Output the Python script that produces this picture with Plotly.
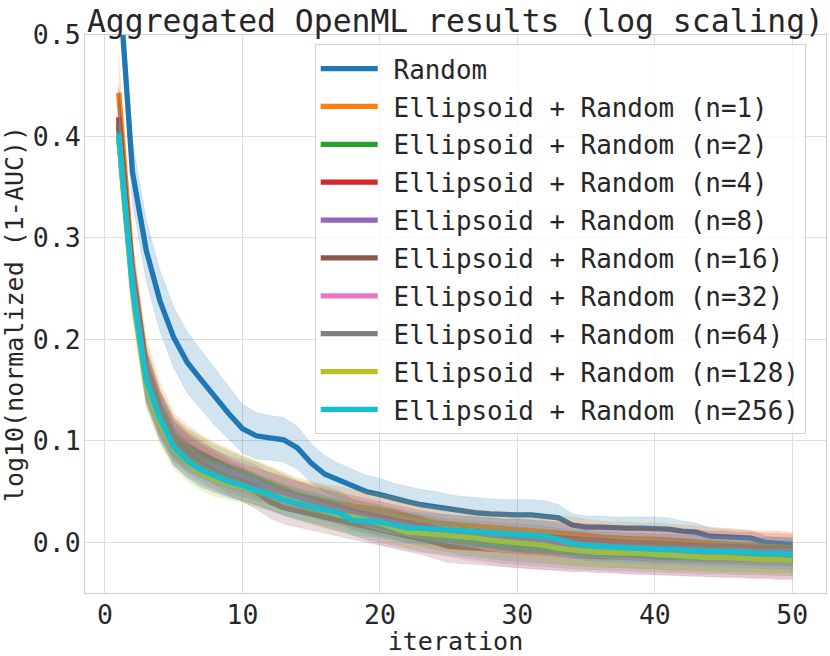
import plotly.graph_objects as go

iterations = list(range(1, 51))

names = ["Random"] + [f"Ellipsoid + Random (n={n})" for n in [1, 2, 4, 8, 16, 32, 64, 128, 256]]
colors = ["#1f77b4", "#ff7f0e", "#2ca02c", "#d62728", "#9467bd",
          "#8c564b", "#e377c2", "#7f7f7f", "#bcbd22", "#17becf"]

random_mean = [0.560, 0.365, 0.288, 0.238, 0.202, 0.177, 0.160, 0.143, 0.127, 0.112,
               0.105, 0.103, 0.101, 0.093, 0.078, 0.067, 0.061, 0.055, 0.050, 0.047,
               0.043, 0.040, 0.037, 0.035, 0.032, 0.030, 0.029, 0.028, 0.027, 0.027,
               0.027, 0.026, 0.024, 0.017, 0.015, 0.015, 0.014, 0.014, 0.014, 0.014,
               0.013, 0.011, 0.010, 0.006, 0.005, 0.005, 0.004, 0.000, -0.001, -0.002]
random_band = [0.030, 0.030, 0.030, 0.030, 0.030, 0.030, 0.029, 0.028, 0.026, 0.024,
               0.023, 0.022, 0.022, 0.021, 0.019, 0.018, 0.017, 0.017, 0.016, 0.016,
               0.015, 0.015, 0.015, 0.015, 0.015, 0.015, 0.015, 0.015, 0.015, 0.015,
               0.015, 0.015, 0.013, 0.011, 0.011, 0.011, 0.011, 0.011, 0.011, 0.011,
               0.011, 0.010, 0.009, 0.008, 0.008, 0.007, 0.007, 0.006, 0.006, 0.006]

n1_mean = [0.443, 0.270, 0.175, 0.135, 0.107, 0.095, 0.087, 0.080, 0.074, 0.069,
           0.063, 0.058, 0.053, 0.047, 0.044, 0.041, 0.039, 0.036, 0.034, 0.032,
           0.029, 0.026, 0.022, 0.019, 0.018, 0.017, 0.016, 0.015, 0.014, 0.013,
           0.012, 0.011, 0.010, 0.009, 0.007, 0.005, 0.004, 0.004, 0.003, 0.003,
           0.002, 0.001, 0.000, -0.001, -0.002, -0.003, -0.004, -0.005, -0.005, -0.006]
n2_mean = [0.410, 0.265, 0.170, 0.130, 0.104, 0.093, 0.086, 0.079, 0.073, 0.068,
           0.063, 0.057, 0.051, 0.046, 0.043, 0.040, 0.036, 0.027, 0.024, 0.021,
           0.018, 0.014, 0.011, 0.008, 0.005, 0.002, 0.000, -0.002, -0.004, -0.005,
           -0.006, -0.007, -0.008, -0.009, -0.010, -0.010, -0.011, -0.011, -0.012, -0.012,
           -0.013, -0.013, -0.014, -0.014, -0.015, -0.015, -0.015, -0.016, -0.016, -0.016]
n4_mean = [0.419, 0.262, 0.166, 0.127, 0.102, 0.090, 0.082, 0.074, 0.066, 0.061,
           0.057, 0.053, 0.049, 0.045, 0.041, 0.037, 0.034, 0.031, 0.028, 0.025,
           0.022, 0.019, 0.016, 0.014, 0.012, 0.011, 0.010, 0.009, 0.008, 0.008,
           0.007, 0.006, 0.005, 0.004, 0.003, 0.002, 0.001, 0.000, -0.001, -0.001,
           -0.002, -0.003, -0.003, -0.004, -0.004, -0.005, -0.005, -0.006, -0.006, -0.007]
n8_mean = [0.410, 0.260, 0.165, 0.126, 0.100, 0.088, 0.080, 0.074, 0.069, 0.065,
           0.060, 0.053, 0.048, 0.045, 0.040, 0.036, 0.032, 0.028, 0.025, 0.022,
           0.019, 0.016, 0.013, 0.011, 0.009, 0.008, 0.007, 0.006, 0.005, 0.004,
           0.003, 0.002, 0.000, -0.002, -0.003, -0.004, -0.004, -0.005, -0.005, -0.006,
           -0.006, -0.007, -0.007, -0.008, -0.008, -0.008, -0.009, -0.009, -0.009, -0.009]
n16_mean = [0.414, 0.258, 0.163, 0.125, 0.099, 0.088, 0.078, 0.070, 0.063, 0.057,
            0.050, 0.040, 0.034, 0.031, 0.028, 0.025, 0.022, 0.019, 0.016, 0.013,
            0.010, 0.007, 0.004, 0.000, -0.004, -0.005, -0.006, -0.007, -0.008, -0.009,
            -0.010, -0.011, -0.012, -0.013, -0.013, -0.014, -0.014, -0.015, -0.015, -0.016,
            -0.016, -0.017, -0.017, -0.018, -0.018, -0.018, -0.019, -0.019, -0.020, -0.020]
n32_mean = [0.400, 0.255, 0.160, 0.122, 0.095, 0.082, 0.072, 0.066, 0.061, 0.057,
            0.052, 0.047, 0.042, 0.038, 0.034, 0.030, 0.027, 0.024, 0.018, 0.014,
            0.011, 0.008, 0.006, 0.004, 0.002, -0.001, -0.003, -0.006, -0.008, -0.009,
            -0.010, -0.011, -0.011, -0.012, -0.012, -0.013, -0.014, -0.015, -0.016, -0.016,
            -0.017, -0.017, -0.018, -0.018, -0.019, -0.019, -0.020, -0.020, -0.021, -0.021]
n64_mean = [0.400, 0.254, 0.158, 0.120, 0.095, 0.083, 0.074, 0.067, 0.062, 0.057,
            0.052, 0.047, 0.042, 0.038, 0.034, 0.030, 0.026, 0.022, 0.018, 0.015,
            0.012, 0.009, 0.006, 0.004, 0.002, 0.000, -0.002, -0.004, -0.006, -0.007,
            -0.008, -0.009, -0.010, -0.011, -0.012, -0.012, -0.013, -0.013, -0.014, -0.014,
            -0.015, -0.015, -0.016, -0.016, -0.016, -0.017, -0.017, -0.017, -0.018, -0.018]
n128_mean = [0.400, 0.248, 0.154, 0.117, 0.092, 0.078, 0.068, 0.062, 0.058, 0.055,
             0.051, 0.047, 0.043, 0.038, 0.034, 0.030, 0.027, 0.025, 0.022, 0.019,
             0.014, 0.010, 0.009, 0.008, 0.007, 0.006, 0.004, 0.002, 0.001, 0.000,
             -0.001, -0.003, -0.006, -0.008, -0.009, -0.010, -0.010, -0.011, -0.011, -0.012,
             -0.013, -0.014, -0.014, -0.015, -0.015, -0.016, -0.016, -0.017, -0.017, -0.018]
n256_mean = [0.403, 0.252, 0.160, 0.122, 0.094, 0.080, 0.071, 0.065, 0.060, 0.056,
             0.052, 0.047, 0.042, 0.038, 0.035, 0.032, 0.029, 0.022, 0.021, 0.020,
             0.017, 0.014, 0.014, 0.013, 0.012, 0.011, 0.010, 0.009, 0.008, 0.008,
             0.007, 0.006, 0.003, -0.001, -0.003, -0.004, -0.005, -0.006, -0.006, -0.007,
             -0.007, -0.008, -0.008, -0.009, -0.009, -0.010, -0.010, -0.011, -0.011, -0.012]

n1_band = [0.036, 0.030, 0.026, 0.023, 0.021, 0.020, 0.019, 0.018, 0.018, 0.017,
           0.017, 0.017, 0.016, 0.016, 0.016, 0.016, 0.016, 0.016, 0.016, 0.016,
           0.016, 0.016, 0.016, 0.016, 0.016, 0.016, 0.016, 0.016, 0.016, 0.016,
           0.016, 0.016, 0.016, 0.016, 0.016, 0.016, 0.016, 0.016, 0.016, 0.016,
           0.016, 0.016, 0.016, 0.016, 0.016, 0.016, 0.016, 0.016, 0.016, 0.016]
n2_band = [0.032, 0.028, 0.024, 0.021, 0.020, 0.019, 0.018, 0.017, 0.017, 0.016,
           0.016, 0.016, 0.016, 0.015, 0.015, 0.015, 0.015, 0.015, 0.015, 0.015,
           0.015, 0.015, 0.015, 0.015, 0.015, 0.015, 0.014, 0.014, 0.014, 0.014,
           0.014, 0.014, 0.014, 0.014, 0.014, 0.014, 0.014, 0.014, 0.014, 0.014,
           0.014, 0.014, 0.014, 0.014, 0.014, 0.014, 0.014, 0.014, 0.014, 0.014]
n4_band = [0.033, 0.028, 0.024, 0.022, 0.020, 0.019, 0.018, 0.017, 0.017, 0.016,
           0.016, 0.016, 0.016, 0.015, 0.015, 0.015, 0.015, 0.015, 0.015, 0.015,
           0.015, 0.015, 0.015, 0.015, 0.015, 0.015, 0.015, 0.015, 0.015, 0.015,
           0.015, 0.015, 0.015, 0.015, 0.015, 0.015, 0.015, 0.015, 0.015, 0.015,
           0.015, 0.015, 0.015, 0.015, 0.015, 0.015, 0.015, 0.015, 0.015, 0.015]
n8_band = [0.032, 0.027, 0.023, 0.021, 0.019, 0.018, 0.017, 0.017, 0.016, 0.016,
           0.016, 0.015, 0.015, 0.015, 0.015, 0.015, 0.015, 0.015, 0.015, 0.015,
           0.015, 0.015, 0.015, 0.014, 0.014, 0.014, 0.014, 0.014, 0.014, 0.014,
           0.014, 0.014, 0.014, 0.014, 0.014, 0.014, 0.014, 0.014, 0.014, 0.014,
           0.014, 0.014, 0.014, 0.014, 0.014, 0.014, 0.014, 0.014, 0.014, 0.014]
n16_band = [0.034, 0.029, 0.025, 0.022, 0.020, 0.019, 0.018, 0.018, 0.017, 0.017,
            0.017, 0.016, 0.016, 0.016, 0.016, 0.016, 0.016, 0.016, 0.016, 0.016,
            0.016, 0.016, 0.016, 0.016, 0.016, 0.016, 0.016, 0.016, 0.016, 0.016,
            0.016, 0.016, 0.016, 0.016, 0.016, 0.016, 0.016, 0.016, 0.016, 0.016,
            0.016, 0.016, 0.016, 0.016, 0.016, 0.016, 0.016, 0.016, 0.016, 0.016]
n32_band = [0.031, 0.027, 0.023, 0.021, 0.019, 0.018, 0.017, 0.017, 0.016, 0.016,
            0.016, 0.016, 0.016, 0.016, 0.016, 0.016, 0.016, 0.016, 0.016, 0.016,
            0.016, 0.016, 0.016, 0.016, 0.016, 0.016, 0.016, 0.016, 0.016, 0.016,
            0.016, 0.016, 0.016, 0.016, 0.016, 0.016, 0.016, 0.016, 0.016, 0.016,
            0.016, 0.016, 0.016, 0.016, 0.016, 0.016, 0.016, 0.016, 0.016, 0.016]
n64_band = [0.031, 0.026, 0.022, 0.020, 0.019, 0.018, 0.017, 0.016, 0.016, 0.016,
            0.015, 0.015, 0.015, 0.015, 0.015, 0.015, 0.015, 0.015, 0.015, 0.015,
            0.015, 0.015, 0.015, 0.015, 0.015, 0.015, 0.015, 0.015, 0.015, 0.015,
            0.015, 0.015, 0.015, 0.015, 0.015, 0.015, 0.015, 0.015, 0.015, 0.015,
            0.015, 0.015, 0.015, 0.015, 0.015, 0.015, 0.015, 0.015, 0.015, 0.015]
n128_band = [0.031, 0.026, 0.022, 0.020, 0.019, 0.018, 0.017, 0.017, 0.016, 0.016,
             0.016, 0.015, 0.015, 0.015, 0.015, 0.015, 0.015, 0.015, 0.015, 0.015,
             0.015, 0.015, 0.015, 0.015, 0.015, 0.015, 0.015, 0.015, 0.015, 0.015,
             0.015, 0.015, 0.015, 0.015, 0.015, 0.015, 0.015, 0.015, 0.015, 0.015,
             0.015, 0.015, 0.015, 0.015, 0.015, 0.015, 0.015, 0.015, 0.015, 0.015]
n256_band = [0.031, 0.026, 0.022, 0.020, 0.018, 0.017, 0.017, 0.016, 0.016, 0.015,
             0.015, 0.015, 0.015, 0.015, 0.015, 0.015, 0.015, 0.015, 0.015, 0.015,
             0.015, 0.015, 0.015, 0.015, 0.015, 0.015, 0.015, 0.015, 0.015, 0.015,
             0.015, 0.015, 0.015, 0.015, 0.015, 0.015, 0.015, 0.015, 0.015, 0.015,
             0.015, 0.015, 0.015, 0.015, 0.015, 0.015, 0.015, 0.015, 0.015, 0.015]

means = [random_mean, n1_mean, n2_mean, n4_mean, n8_mean, n16_mean,
         n32_mean, n64_mean, n128_mean, n256_mean]
bands = [random_band, n1_band, n2_band, n4_band, n8_band, n16_band,
         n32_band, n64_band, n128_band, n256_band]

x_ticks = [0, 10, 20, 30, 40, 50]
y_ticks = [0.0, 0.1, 0.2, 0.3, 0.4, 0.5]


def rgba(hex_color, a):
    h = hex_color.lstrip("#")
    r, g, b = int(h[0:2], 16), int(h[2:4], 16), int(h[4:6], 16)
    return f"rgba({r},{g},{b},{a})"


FONT = "DejaVu Sans Mono"
TXT = "#262626"
PAD = "<span style='font-size:18px'>\u00a0</span>"

fig = go.Figure()
for i, (name, col, m, w) in enumerate(zip(names, colors, means, bands)):
    upper = [a + b for a, b in zip(m, w)]
    lower = [a - b for a, b in zip(m, w)]
    fig.add_trace(go.Scatter(
        x=iterations + iterations[::-1],
        y=upper + lower[::-1],
        fill="toself", fillcolor=rgba(col, 0.2),
        line=dict(width=0.6, color=rgba(col, 0.2)),
        mode="lines", showlegend=False, hoverinfo="skip",
        legendgroup=f"g{i}",
    ))
    fig.add_trace(go.Scatter(
        x=iterations, y=m, mode="lines", name=PAD + name,
        line=dict(color=col, width=5.3),
        legendgroup=f"g{i}",
    ))

fig.update_layout(
    width=830, height=656,
    margin=dict(l=85, r=4, t=35, b=63, autoexpand=False),
    paper_bgcolor="white", plot_bgcolor="white",
    font=dict(family=FONT, size=25, color=TXT),
    title=dict(text="Aggregated OpenML results (log scaling)",
               font=dict(family=FONT, size=31.4, color=TXT),
               x=0.5, xref="paper", xanchor="center",
               y=1.0, yref="paper", yanchor="bottom", pad=dict(b=3)),
    legend=dict(x=0.31, y=0.9834, xanchor="left", yanchor="top",
                bgcolor="rgba(255,255,255,0.8)", bordercolor="#d0d0d0",
                borderwidth=1, font=dict(family=FONT, size=25.9, color=TXT),
                traceorder="grouped", tracegroupgap=1.2, itemwidth=57),
    showlegend=True,
)
fig.update_xaxes(range=[-1.45, 52.45], tickvals=x_ticks, ticks="",
                 showgrid=True, gridcolor="#dddddd", gridwidth=1,
                 showline=True, linecolor="#cccccc", linewidth=1, mirror=True,
                 zeroline=False,
                 title=dict(text="iteration", standoff=2, font=dict(size=25)),
                 tickfont=dict(size=26.5), ticklabelstandoff=-2)
fig.update_yaxes(range=[-0.05, 0.5], tickvals=y_ticks, tickformat=".1f", ticks="",
                 showgrid=True, gridcolor="#dddddd", gridwidth=1,
                 showline=True, linecolor="#cccccc", linewidth=1, mirror=True,
                 zeroline=False,
                 title=dict(text="log10(normalized (1-AUC))", standoff=12, font=dict(size=25)),
                 tickfont=dict(size=26.5), ticklabelstandoff=-2)

fig.write_html("out.html", config={"displayModeBar": False},
               post_script="document.body.style.margin='0';document.body.style.padding='0';")
